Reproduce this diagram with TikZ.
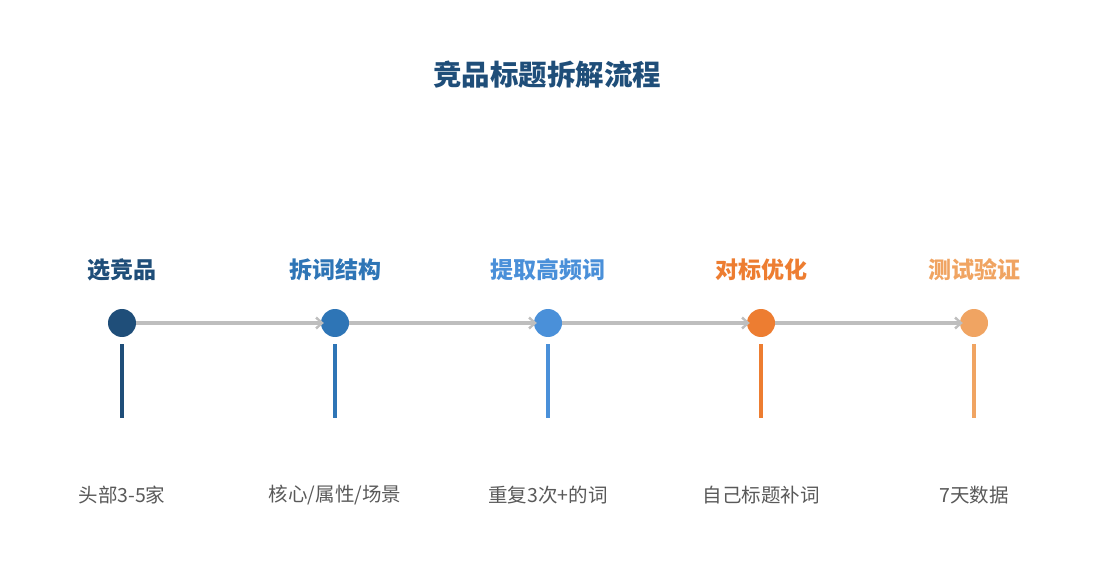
\documentclass[tikz,border=0pt]{standalone}
\usepackage{fontspec}
\setmainfont{Noto Sans CJK SC}
\usetikzlibrary{arrows.meta}
\definecolor{stepA}{HTML}{1F4E79}
\definecolor{stepB}{HTML}{2E75B6}
\definecolor{stepC}{HTML}{4A90D9}
\definecolor{stepD}{HTML}{ED7D31}
\definecolor{stepE}{HTML}{F0A462}
\definecolor{flowgray}{HTML}{BEBEBE}
\definecolor{notegray}{HTML}{595959}
\tikzset{
  dot/.style={circle,inner sep=0pt,minimum size=28pt},
  head/.style={font=\fontsize{23}{27}\selectfont\bfseries},
  note/.style={font=\fontsize{19.5}{23}\selectfont,text=notegray},
  flow/.style={draw=flowgray,line width=3.2pt,shorten >=-3pt,-{Straight Barb[length=6pt,width=11pt,line width=2.4pt]}},
  stem/.style={line width=3.5pt}
}
\begin{document}
\begin{tikzpicture}[x=1pt,y=-1pt]
  \useasboundingbox (0,0) rectangle (1095,585);
  \draw
    (547,75) node[font=\fontsize{28.5}{33}\selectfont\bfseries,text=stepA] (title){竞品标题拆解流程}
    (122,270) node[head,text=stepA] (h1){选竞品}
    (335,270) node[head,text=stepB] (h2){拆词结构}
    (548,270) node[head,text=stepC] (h3){提取高频词}
    (761,270) node[head,text=stepD] (h4){对标优化}
    (974,270) node[head,text=stepE] (h5){测试验证}
    (122,495) node[note] (n1){头部3-5家}
    (335,495) node[note] (n2){核心/属性/场景}
    (548,495) node[note] (n3){重复3次+的词}
    (761,495) node[note] (n4){自己标题补词}
    (974,495) node[note] (n5){7天数据};
  \node[dot,fill=stepA] (d1) at (122,323) {};
  \node[dot,fill=stepB] (d2) at (335,323) {};
  \node[dot,fill=stepC] (d3) at (548,323) {};
  \node[dot,fill=stepD] (d4) at (761,323) {};
  \node[dot,fill=stepE] (d5) at (974,323) {};
  \coordinate (t1) at (122,344);
  \coordinate (b1) at (122,418);
  \coordinate (t2) at (335,344);
  \coordinate (b2) at (335,418);
  \coordinate (t3) at (548,344);
  \coordinate (b3) at (548,418);
  \coordinate (t4) at (761,344);
  \coordinate (b4) at (761,418);
  \coordinate (t5) at (974,344);
  \coordinate (b5) at (974,418);
  \begin{scope}[flow]
    \draw (d1) -- (d2);
    \draw (d2) -- (d3);
    \draw (d3) -- (d4);
    \draw (d4) -- (d5);
  \end{scope}
  \draw[stem,stepA] (t1) -- (b1);
  \draw[stem,stepB] (t2) -- (b2);
  \draw[stem,stepC] (t3) -- (b3);
  \draw[stem,stepD] (t4) -- (b4);
  \draw[stem,stepE] (t5) -- (b5);
\end{tikzpicture}
\end{document}
